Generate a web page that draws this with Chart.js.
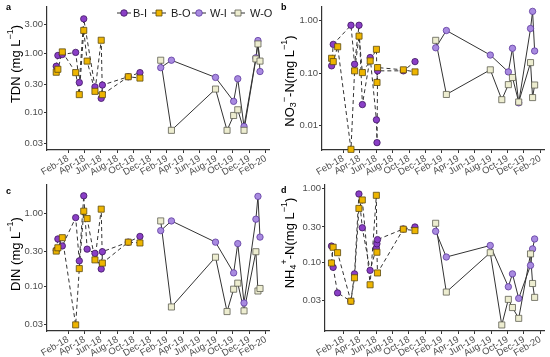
<!DOCTYPE html>
<html lang="en">
<head>
<meta charset="UTF-8">
<title>Nitrogen fractions</title>
<script src="https://cdn.jsdelivr.net/npm/chart.js"></script>
<style>
  body { margin: 0; background: #fff; }
  .panel { position: absolute; }
</style>
</head>
<body>
<div class="panel" style="left:0;top:0"><canvas id="cA" width="275" height="178"></canvas></div>
<div class="panel" style="left:275px;top:0"><canvas id="cB" width="275" height="178"></canvas></div>
<div class="panel" style="left:0;top:178px"><canvas id="cC" width="275" height="179"></canvas></div>
<div class="panel" style="left:275px;top:178px"><canvas id="cD" width="275" height="179"></canvas></div>
<script>
// sampling dates in months after 1 Jan 2018 (1 = Feb-18)
const datesB = [-0.43, -0.23, 0.31, 1.93, 2.37, 2.91, 3.32, 4.27, 5.03, 5.10, 5.17, 8.31, 9.73];
const datesW = [12.25, 13.55, 18.9, 20.3, 21.1, 21.6, 22.36, 23.8, 24.05, 24.3];

const tickValues = [1, 3, 5, 7, 9, 11, 13, 15, 17, 19, 21, 23, 25];
const tickLabels = ['Feb-18', 'Apr-18', 'Jun-18', 'Aug-18', 'Oct-18', 'Dec-18',
                    'Feb-19', 'Apr-19', 'Jun-19', 'Aug-19', 'Oct-19', 'Dec-19', 'Feb-20'];

// TDN (mg/L)
const tdnBI = [0.60, 0.915, 0.95, 1.03, 0.32, 3.79, null, 0.27, 0.173, null, 0.29, 0.40, 0.47];
const tdnBO = [0.477, 0.535, 1.05, 0.47, 0.20, 2.42, 0.735, 0.227, 1.65, null, 0.20, 0.40, 0.38];
const tdnWI = [0.57, 0.76, 0.39, null, 0.154, 0.37, 0.058, 0.835, 1.63, 0.49];
const tdnWO = [0.76, 0.050, 0.248, 0.050, 0.089, 0.111, 0.050, 0.80, 1.43, 0.735];

// NO3-N
const no3BI = [0.137, 0.352, null, 0.815, 0.147, 0.815, 0.025, 0.197, 0.0128, 0.0047, 0.110, 0.11, 0.165];
const no3BO = [0.191, 0.165, 0.317, 0.0035, 0.110, 0.505, 0.102, 0.17, 0.283, 0.066, 0.127, 0.115, 0.105];
const no3WI = [0.303, 0.647, 0.22, null, 0.105, 0.296, 0.027, 0.706, 1.5, 0.263];
const no3WO = [0.42, 0.039, 0.115, 0.031, 0.06, 0.082, 0.028, 0.158, 0.034, 0.059];

// DIN
const dinBI = [0.31, 0.442, 0.355, 0.866, 0.222, 1.72, 0.321, 0.281, 0.172, null, 0.296, 0.40, 0.479];
const dinBO = [0.302, 0.335, 0.46, 0.0296, 0.174, 1.06, 0.84, 0.229, 1.13, null, 0.207, 0.40, 0.39];
const dinWI = [0.575, 0.78, 0.40, null, 0.152, 0.382, 0.059, 0.824, 1.69, 0.469];
const dinWO = [0.78, 0.052, 0.249, 0.045, 0.091, 0.11, 0.046, 0.296, 0.086, 0.093];

// NH4-N
const nh4BI = [0.165, 0.0846, 0.038, 0.0293, 0.069, 0.845, 0.293, 0.077, 0.155, 0.177, 0.202, 0.282, 0.30];
const nh4BO = [0.097, 0.159, 0.134, 0.0293, 0.061, 0.537, 0.70, 0.049, 0.81, 0.136, 0.071, 0.28, 0.268];
const nh4WI = [0.262, 0.117, 0.168, null, 0.046, 0.069, 0.032, 0.09, 0.151, 0.206];
const nh4WO = [0.337, 0.039, 0.134, 0.0139, 0.031, 0.024, 0.0171, 0.129, 0.051, 0.033];

const seriesNames = ['B-I', 'B-O', 'W-I', 'W-O'];
const styles = {
  'B-I': { shape: 'circle', fill: '#8a3fc6', edge: '#3d1560', dash: [4, 3] },
  'B-O': { shape: 'rect',   fill: '#eeb500', edge: '#5c4a10', dash: [4, 3] },
  'W-I': { shape: 'circle', fill: '#a88ae0', edge: '#5e3a9e', dash: [] },
  'W-O': { shape: 'rect',   fill: '#ededd0', edge: '#5e5e50', dash: [] }
};

const FONT = '"Liberation Sans", Arial, sans-serif';
Chart.defaults.font.family = FONT;

function makeDatasets(bi, bo, wi, wo) {
  const sets = [[bi, datesB], [bo, datesB], [wi, datesW], [wo, datesW]];
  const out = [];
  sets.forEach(([vals, dates], k) => {
    const name = seriesNames[k];
    const st = styles[name];
    const pts = dates.map((d, i) => ({ x: d, y: vals[i] }));
    // line underneath all points
    out.push({
      label: name + ' line', data: pts, showLine: true, spanGaps: true,
      borderColor: '#333', borderWidth: 1, borderDash: st.dash,
      pointRadius: 0, order: 10, clip: false, fill: false
    });
    out.push({
      label: name, data: pts, showLine: false,
      pointStyle: st.shape, pointRadius: st.shape === 'rect' ? 4.3 : 3.2,
      pointBackgroundColor: st.fill, pointBorderColor: st.edge, pointBorderWidth: 0.8,
      order: 4 - k, clip: false
    });
  });
  return out;
}

// panel letter + rotated y title (with sub/superscripts)
const panelDeco = {
  id: 'panelDeco',
  afterDraw(chart, args, o) {
    if (!o.letter) return;
    const ctx = chart.ctx;
    ctx.save();
    ctx.fillStyle = '#000';
    ctx.font = 'bold 9px ' + FONT;
    ctx.textBaseline = 'top';
    ctx.fillText(o.letter, o.letterX, o.letterY);

    ctx.translate(o.titleX, o.titleY);
    ctx.rotate(-Math.PI / 2);
    const big = '13px ' + FONT, small = '9px ' + FONT;
    let total = 0;
    o.title.forEach(s => { ctx.font = s[1] ? small : big; total += ctx.measureText(s[0]).width; });
    let x = -total / 2;
    ctx.textBaseline = 'middle';
    ctx.textAlign = 'left';
    o.title.forEach(s => {
      ctx.font = s[1] ? small : big;
      const dy = s[1] === 1 ? -5 : (s[1] === -1 ? 4 : 0);
      ctx.fillText(s[0], x, dy);
      x += ctx.measureText(s[0]).width;
    });
    ctx.restore();
  }
};

// ggplot-like legend keys (line through point) for panel a
const keyLegend = {
  id: 'keyLegend',
  afterDraw(chart, args, o) {
    if (!o.show) return;
    const ctx = chart.ctx;
    ctx.save();
    ctx.font = '11px ' + FONT;
    ctx.textBaseline = 'middle';
    seriesNames.forEach((name, i) => {
      const st = styles[name];
      const mx = o.markX[i], y = o.y;
      ctx.strokeStyle = '#333';
      ctx.lineWidth = 1;
      ctx.beginPath(); ctx.moveTo(mx - 7, y); ctx.lineTo(mx + 7, y); ctx.stroke();
      ctx.fillStyle = st.fill;
      ctx.strokeStyle = st.edge;
      ctx.lineWidth = 0.8;
      ctx.beginPath();
      if (st.shape === 'circle') ctx.arc(mx, y, 3.3, 0, Math.PI * 2);
      else ctx.rect(mx - 3, y - 3, 6, 6);
      ctx.fill(); ctx.stroke();
      ctx.fillStyle = '#1a1a1a';
      ctx.fillText(name, o.textX[i], y + 0.5);
    });
    ctx.restore();
  }
};

function makeChart(id, cfg) {
  return new Chart(document.getElementById(id), {
    type: 'line',
    data: { datasets: makeDatasets(...cfg.series) },
    plugins: [panelDeco, keyLegend],
    options: {
      responsive: false,
      animation: false,
      layout: { padding: { left: 0, right: cfg.padR, top: cfg.padT, bottom: 0 } },
      plugins: {
        legend: { display: false },
        tooltip: { enabled: false },
        panelDeco: cfg.deco,
        keyLegend: cfg.legend || { show: false }
      },
      scales: {
        x: {
          type: 'linear', min: cfg.xMin, max: cfg.xMax,
          afterBuildTicks: s => { s.ticks = tickValues.map(v => ({ value: v })); },
          afterFit: s => { s.height = cfg.xH; },
          ticks: {
            autoSkip: false, minRotation: 30, maxRotation: 30, padding: 0,
            color: '#4d4d4d', font: { size: 9.5 },
            callback: v => tickLabels[tickValues.indexOf(v)]
          },
          grid: { drawOnChartArea: false, tickLength: 3, color: '#333' },
          border: { color: '#333', width: 1.2 }
        },
        y: {
          type: 'logarithmic', min: cfg.yMin, max: cfg.yMax,
          afterBuildTicks: s => { s.ticks = cfg.yTicks.map(v => ({ value: v })); },
          afterFit: s => { s.width = cfg.yW; },
          ticks: {
            color: '#4d4d4d', font: { size: 9.5 }, padding: 1,
            callback: v => Number(v).toFixed(2)
          },
          grid: { drawOnChartArea: false, tickLength: 3, color: '#333' },
          border: { color: '#333', width: 1.2 }
        }
      }
    }
  });
}

makeChart('cA', {
  series: [tdnBI, tdnBO, tdnWI, tdnWO],
  padT: 5, padR: 3, yW: 47, xH: 28, xMin: -1.55, xMax: 25.5,
  yMin: 0.0233, yMax: 6.07, yTicks: [0.03, 0.1, 0.3, 1, 3],
  deco: { letter: 'a', letterX: 6, letterY: 3, titleX: 16, titleY: 64,
          title: [['TDN (mg L', 0], ['\u22121', 1], [')', 0]] },
  legend: { show: true, y: 13, markX: [124, 159, 199, 238], textX: [133, 171, 210, 250] }
});

makeChart('cB', {
  series: [no3BI, no3BO, no3WI, no3WO],
  padT: 5, padR: 2, yW: 47, xH: 28, xMin: -1.6, xMax: 25.55,
  yMin: 0.0034, yMax: 1.84, yTicks: [0.01, 0.1, 1],
  deco: { letter: 'b', letterX: 6, letterY: 3, titleX: 15, titleY: 81,
          title: [['NO', 0], ['3', -1], ['\u2212', 1], ['-N(mg L', 0], ['\u22121', 1], [')', 0]] }
});

makeChart('cC', {
  series: [dinBI, dinBO, dinWI, dinWO],
  padT: 3, padR: 3, yW: 47, xH: 26, xMin: -1.55, xMax: 25.5,
  yMin: 0.0244, yMax: 2.44, yTicks: [0.03, 0.1, 0.3, 1],
  deco: { letter: 'c', letterX: 6, letterY: 9, titleX: 16, titleY: 76,
          title: [['DIN (mg L', 0], ['\u22121', 1], [')', 0]] }
});

makeChart('cD', {
  series: [nh4BI, nh4BO, nh4WI, nh4WO],
  padT: 5, padR: 2, yW: 50, xH: 26, xMin: -1.22, xMax: 25.55,
  yMin: 0.0115, yMax: 1.13, yTicks: [0.03, 0.1, 0.3, 1],
  deco: { letter: 'd', letterX: 6, letterY: 8, titleX: 15, titleY: 65,
          title: [['NH', 0], ['4', -1], ['+', 1], ['-N(mg L', 0], ['\u22121', 1], [')', 0]] }
});
</script>
</body>
</html>
